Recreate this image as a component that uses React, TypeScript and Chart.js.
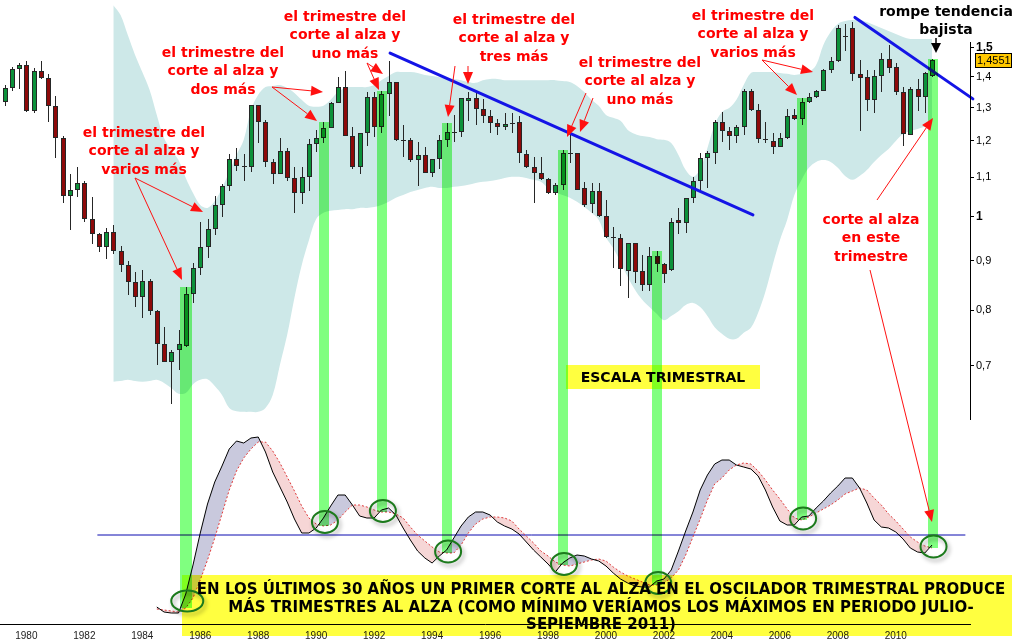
import React, { useEffect, useRef } from "react";
import { Chart, registerables } from "chart.js";

Chart.register(...registerables);

// ---------------- DATA ----------------
const FIRST_YEAR = 1979;
const FIRST_QUARTER = 2;

const OPEN = [
  1.318, 1.361, 1.425, 1.439, 1.29, 1.42, 1.394, 1.306, 1.208, 1.052,
  1.067, 1.084, 0.995, 0.959, 0.93, 0.965, 0.922, 0.891, 0.855, 0.825,
  0.857, 0.799, 0.737, 0.706, 0.727, 0.735, 0.831, 0.886, 0.93, 0.971,
  1.029, 1.077, 1.149, 1.131, 1.128, 1.308, 1.255, 1.14, 1.108, 1.171,
  1.097, 1.058, 1.1, 1.19, 1.209, 1.237, 1.313, 1.364, 1.214, 1.128,
  1.222, 1.332, 1.24, 1.342, 1.381, 1.203, 1.203, 1.146, 1.159, 1.11,
  1.148, 1.203, 1.227, 1.227, 1.32, 1.329, 1.295, 1.274, 1.252, 1.24,
  1.252, 1.256, 1.162, 1.126, 1.11, 1.094, 1.058, 1.079, 1.165, 1.165,
  1.071, 1.031, 1.064, 1.003, 0.953, 0.95, 0.879, 0.939, 0.879, 0.85,
  0.911, 0.893, 0.881, 0.993, 0.985, 1.047, 1.09, 1.151, 1.165, 1.255,
  1.228, 1.215, 1.24, 1.353, 1.292, 1.205, 1.201, 1.182, 1.207, 1.276,
  1.264, 1.316, 1.332, 1.352, 1.422, 1.453, 1.542, 1.571, 1.407, 1.397,
  1.324, 1.402, 1.459, 1.431, 1.348, 1.217, 1.358, 1.332, 1.402,
];
const HIGH = [
  1.372, 1.434, 1.447, 1.454, 1.428, 1.452, 1.408, 1.336, 1.214, 1.108,
  1.127, 1.09, 1.05, 0.963, 0.974, 0.981, 0.933, 0.9, 0.877, 0.881,
  0.861, 0.8, 0.769, 0.727, 0.763, 0.845, 0.895, 0.988, 0.995, 1.052,
  1.081, 1.162, 1.179, 1.163, 1.308, 1.308, 1.262, 1.149, 1.207, 1.179,
  1.128, 1.127, 1.206, 1.232, 1.256, 1.318, 1.4, 1.419, 1.242, 1.222,
  1.348, 1.348, 1.352, 1.452, 1.381, 1.247, 1.208, 1.196, 1.183, 1.149,
  1.217, 1.253, 1.277, 1.329, 1.35, 1.347, 1.326, 1.292, 1.264, 1.282,
  1.282, 1.274, 1.174, 1.154, 1.154, 1.097, 1.084, 1.174, 1.224, 1.165,
  1.087, 1.084, 1.084, 1.042, 0.977, 0.96, 0.939, 0.939, 0.913, 0.931,
  0.921, 0.896, 0.997, 1.021, 1.047, 1.101, 1.165, 1.171, 1.262, 1.287,
  1.241, 1.247, 1.359, 1.359, 1.31, 1.255, 1.222, 1.222, 1.295, 1.294,
  1.329, 1.345, 1.356, 1.426, 1.468, 1.584, 1.588, 1.596, 1.456, 1.422,
  1.422, 1.48, 1.51, 1.445, 1.365, 1.365, 1.391, 1.416, 1.459,
];
const LOW = [
  1.305, 1.353, 1.358, 1.287, 1.282, 1.391, 1.257, 1.151, 1.035, 0.969,
  1.048, 0.989, 0.937, 0.92, 0.904, 0.915, 0.876, 0.829, 0.807, 0.786,
  0.791, 0.701, 0.706, 0.639, 0.693, 0.732, 0.813, 0.871, 0.907, 0.958,
  1.001, 1.065, 1.117, 1.089, 1.115, 1.193, 1.128, 1.081, 1.108, 1.091,
  1.009, 1.032, 1.065, 1.168, 1.195, 1.237, 1.313, 1.214, 1.121, 1.108,
  1.186, 1.211, 1.222, 1.274, 1.2, 1.155, 1.14, 1.078, 1.11, 1.1,
  1.121, 1.183, 1.198, 1.212, 1.26, 1.246, 1.253, 1.222, 1.217, 1.232,
  1.224, 1.137, 1.124, 1.035, 1.093, 1.056, 1.054, 1.068, 1.139, 1.067,
  1.025, 1.009, 1.001, 0.95, 0.885, 0.847, 0.823, 0.853, 0.838, 0.837,
  0.876, 0.854, 0.879, 0.961, 0.963, 1.033, 1.067, 1.071, 1.135, 1.198,
  1.174, 1.193, 1.217, 1.29, 1.195, 1.195, 1.162, 1.182, 1.205, 1.262,
  1.246, 1.313, 1.329, 1.352, 1.413, 1.451, 1.488, 1.385, 1.23, 1.289,
  1.284, 1.35, 1.413, 1.339, 1.185, 1.217, 1.289, 1.282, 1.399,
];
const CLOSE = [
  1.361, 1.425, 1.439, 1.29, 1.42, 1.394, 1.306, 1.208, 1.052, 1.067,
  1.084, 0.995, 0.959, 0.93, 0.965, 0.922, 0.891, 0.855, 0.825, 0.857,
  0.799, 0.737, 0.706, 0.724, 0.738, 0.831, 0.886, 0.93, 0.971, 1.029,
  1.077, 1.149, 1.131, 1.129, 1.308, 1.255, 1.14, 1.108, 1.171, 1.097,
  1.058, 1.1, 1.19, 1.209, 1.237, 1.313, 1.364, 1.214, 1.128, 1.222,
  1.332, 1.24, 1.342, 1.381, 1.203, 1.203, 1.146, 1.159, 1.11, 1.148,
  1.203, 1.227, 1.227, 1.329, 1.329, 1.295, 1.275, 1.252, 1.24, 1.249,
  1.252, 1.165, 1.126, 1.11, 1.094, 1.058, 1.079, 1.165, 1.165, 1.068,
  1.029, 1.064, 1.003, 0.953, 0.953, 0.882, 0.939, 0.877, 0.85, 0.911,
  0.893, 0.873, 0.989, 0.985, 1.047, 1.09, 1.151, 1.165, 1.255, 1.228,
  1.215, 1.241, 1.352, 1.292, 1.205, 1.202, 1.182, 1.207, 1.275, 1.264,
  1.316, 1.332, 1.352, 1.422, 1.453, 1.571, 1.54, 1.407, 1.394, 1.324,
  1.402, 1.459, 1.428, 1.348, 1.219, 1.358, 1.332, 1.411, 1.4551,
];

const BAND_START = 15;
const BAND_UPPER = [
  1.661, 1.622, 1.546, 1.474, 1.415, 1.356, 1.277, 1.208, 1.174, 1.146,
  1.098, 1.059, 1.029, 1.022, 1.039, 1.072, 1.114, 1.16, 1.203, 1.292,
  1.34, 1.365, 1.369, 1.372, 1.362, 1.346, 1.324, 1.305, 1.302, 1.305,
  1.324, 1.349, 1.362, 1.365, 1.365, 1.365, 1.372, 1.388, 1.402, 1.415,
  1.415, 1.415, 1.412, 1.405, 1.402, 1.398, 1.395, 1.392, 1.388, 1.382,
  1.379, 1.388, 1.392, 1.392, 1.388, 1.388, 1.388, 1.388, 1.388, 1.388,
  1.388, 1.388, 1.385, 1.382, 1.369, 1.349, 1.324, 1.305, 1.277, 1.268,
  1.259, 1.232, 1.22, 1.214, 1.211, 1.205, 1.203, 1.194, 1.16, 1.119,
  1.101, 1.122, 1.18, 1.247, 1.286, 1.298, 1.324, 1.372, 1.412, 1.415,
  1.415, 1.415, 1.412, 1.409, 1.405, 1.409, 1.415, 1.439, 1.51, 1.558,
  1.588, 1.599, 1.603, 1.603, 1.595, 1.584, 1.573, 1.561, 1.55, 1.539,
  1.532, 1.532, 1.532, 1.532,
];
const BAND_LOWER = [
  0.674, 0.675, 0.677, 0.675, 0.674, 0.675, 0.677, 0.672, 0.664, 0.655,
  0.656, 0.67, 0.677, 0.678, 0.667, 0.653, 0.633, 0.628, 0.627, 0.627,
  0.627, 0.633, 0.653, 0.702, 0.754, 0.824, 0.891, 0.946, 0.995, 1.01,
  1.015, 1.017, 1.019, 1.019, 1.022, 1.022, 1.024, 1.029, 1.037, 1.047,
  1.054, 1.062, 1.067, 1.072, 1.075, 1.072, 1.072, 1.075, 1.077, 1.08,
  1.085, 1.088, 1.09, 1.093, 1.098, 1.101, 1.101, 1.098, 1.093, 1.088,
  1.072, 1.062, 1.054, 1.047, 1.037, 1.024, 1.01, 0.993, 0.952, 0.928,
  0.898, 0.866, 0.84, 0.82, 0.806, 0.793, 0.781, 0.789, 0.798, 0.81,
  0.814, 0.806, 0.789, 0.768, 0.756, 0.747, 0.747, 0.758, 0.767, 0.795,
  0.836, 0.891, 0.946, 0.993, 1.054, 1.093, 1.125, 1.141, 1.146, 1.141,
  1.125, 1.103, 1.093, 1.103, 1.119, 1.141, 1.16, 1.177, 1.2, 1.22,
  1.229, 1.235, 1.241, 1.25,
];

const OSC_START = 21;
const OSC_FAST = [
  -36, -38.5, -39, -39, -29.5, -15, 1, 15.5, 26.5, 34.5,
  43, 47, 46, 48.5, 49, 41.5, 31.5, 24, 16.5, 8,
  1, 1, 3.5, 8.5, 14.5, 20, 20, 15, 9.5, 8.5,
  8.5, 12.5, 13.5, 10, 3.5, -2.5, -8, -11.5, -14, -10.5,
  -7.5, -1.5, 4.5, 9, 11.5, 11.5, 10, 6.5, 4.5, 3,
  0.5, -3.5, -7.5, -11, -14.5, -18.5, -14, -11.5, -10, -10.5,
  -12, -13, -15.5, -19, -22, -24, -25.5, -26, -26, -23,
  -22, -17.5, -8, 2, 11.5, 22.5, 30, 35.5, 37.5, 37.5,
  35, 34, 33, 29.5, 22.5, 14, 7, 5, 5, 9,
  9.5, 13.5, 17, 21, 24.5, 28.5, 28.5, 23.5, 16, 7.5,
  4, 3.5, 1.5, -2, -6.5, -8.5, -9, -5,
];
const OSC_SLOW = [
  -37, -37.5, -38, -38.5, -36.5, -31.5, -22.5, -12.5, -1.5, 10.5,
  22.5, 32, 38.5, 43, 46.5, 46.5, 42, 36, 29, 22,
  14.5, 8.5, 5.5, 4.5, 5, 7.5, 11.5, 15, 15, 14,
  12.5, 11.5, 11.5, 10.5, 8.5, 4, 0, -3, -6, -8.5,
  -9, -9, -5, 1, 5.5, 8, 9, 9, 8.5, 7,
  3, -0.5, -4, -8, -10.5, -13.5, -15, -15.5, -14.5, -13.5,
  -12.5, -12, -13, -16, -18.5, -20.5, -22, -23.5, -25, -25,
  -24, -21.5, -17.5, -10, -1, 8, 17.5, 25.5, 28.5, 32.5,
  35, 36, 35.5, 32, 27.5, 22.5, 18, 13, 8.5, 7.5,
  9, 11, 13, 15, 17.5, 20.5, 22, 23.5, 22.5, 18.5,
  15, 10.5, 7, 3, -1, -3.5, -5.5, -6.5,
];

const CROSS_UP = [25, 44, 52, 61, 77, 90, 110, 128];

const YEAR_TICKS = [1980, 1982, 1984, 1986, 1988, 1990, 1992, 1994, 1996, 1998, 2000, 2002, 2004, 2006, 2008, 2010];
const PRICE_TICKS = [0.7, 0.8, 0.9, 1, 1.1, 1.2, 1.3, 1.4, 1.5];
const BOLD_PRICE_TICKS = [1, 1.5];

const TRENDLINES = [
  [1992.55, 1.481, 2005.07, 1.005],
  [2008.59, 1.613, 2012.66, 1.327],
];
const ZERO_LINE = [1982.45, 2012.4];
const LAST_VALUE_LABEL = "1,4551";

// ---------------- LAYOUT / STYLE ----------------
const X_MIN = 1979.09;
const X_MAX = 2012.56;
const PRICE_MAX = 1.6817;
const PRICE_MIN = 0.3772;
const OSC_MIN = -44.5;
const OSC_MAX = 267.5;

const NOTE_LINES_A = ["el trimestre del", "corte al alza y"];
const RED_NOTES = [
  { x: 144, y: 133, lines: [...NOTE_LINES_A, "varios más"] },
  { x: 223, y: 53, lines: [...NOTE_LINES_A, "dos más"] },
  { x: 345, y: 17, lines: [...NOTE_LINES_A, "uno más"] },
  { x: 514, y: 20, lines: [...NOTE_LINES_A, "tres más"] },
  { x: 640, y: 63, lines: [...NOTE_LINES_A, "uno más"] },
  { x: 753, y: 16, lines: [...NOTE_LINES_A, "varios más"] },
  { x: 871, y: 220, lines: ["corte al alza", "en este", "trimestre"] },
];
const RED_ARROWS = [
  [135, 178, 182, 280], [135, 178, 203, 212],
  [272, 87, 323, 92], [272, 87, 317, 121],
  [367, 63, 383, 74], [367, 63, 379, 90],
  [455, 66, 448, 117], [468, 66, 468, 84],
  [586, 93, 567, 137], [593, 98, 580, 132],
  [762, 60, 813, 72], [762, 60, 797, 95],
  [877, 200, 933, 118], [870, 270, 932, 522],
];
const BOTTOM_TEXT = [
  "EN LOS ÚLTIMOS 30 AÑOS UN PRIMER CORTE AL ALZA EN EL OSCILADOR TRIMESTRAL PRODUCE",
  "MÁS TRIMESTRES AL ALZA (COMO MÍNIMO VERÍAMOS LOS MÁXIMOS EN PERIODO JULIO-",
  "SEPIEMBRE 2011)",
];

const quarterTime = (i: number) => FIRST_YEAR + (FIRST_QUARTER - 1) / 4 + i / 4;

function drawArrow(ctx: CanvasRenderingContext2D, x1: number, y1: number, x2: number, y2: number, color: string, L = 12, W = 5) {
  const a = Math.atan2(y2 - y1, x2 - x1);
  const bx = x2 - L * Math.cos(a);
  const by = y2 - L * Math.sin(a);
  ctx.strokeStyle = color;
  ctx.lineWidth = 1;
  ctx.beginPath();
  ctx.moveTo(x1, y1);
  ctx.lineTo(bx, by);
  ctx.stroke();
  ctx.fillStyle = color;
  ctx.beginPath();
  ctx.moveTo(x2, y2);
  ctx.lineTo(bx + W * Math.sin(a), by - W * Math.cos(a));
  ctx.lineTo(bx - W * Math.sin(a), by + W * Math.cos(a));
  ctx.closePath();
  ctx.fill();
}

const bgPlugin = {
  id: "bg",
  beforeDraw(chart: any) {
    const ctx = chart.ctx;
    ctx.save();
    ctx.fillStyle = "#ffffff";
    ctx.fillRect(0, 0, chart.width, chart.height);
    ctx.restore();
  },
};

const overlayPlugin = {
  id: "overlay",
  afterDatasetsDraw(chart: any) {
    const ctx: CanvasRenderingContext2D = chart.ctx;
    const xs = chart.scales.x;
    const ys = chart.scales.y;
    const yo = chart.scales.y2;
    const area = chart.chartArea;
    ctx.save();

    // candlesticks
    for (let i = 0; i < CLOSE.length; i++) {
      const cx = Math.round(xs.getPixelForValue(quarterTime(i)));
      const yH = Math.round(ys.getPixelForValue(HIGH[i]));
      const yL = Math.round(ys.getPixelForValue(LOW[i]));
      const yO = ys.getPixelForValue(OPEN[i]);
      const yC = ys.getPixelForValue(CLOSE[i]);
      ctx.strokeStyle = "#262626";
      ctx.lineWidth = 1;
      ctx.beginPath();
      ctx.moveTo(cx + 0.5, yH);
      ctx.lineTo(cx + 0.5, yL);
      ctx.stroke();
      const top = Math.round(Math.min(yO, yC));
      const bot = Math.round(Math.max(yO, yC));
      if (bot - top < 2) {
        ctx.beginPath();
        ctx.moveTo(cx - 2, top + 0.5);
        ctx.lineTo(cx + 3, top + 0.5);
        ctx.stroke();
      } else {
        ctx.fillStyle = CLOSE[i] >= OPEN[i] ? "#0c913a" : "#8e0a0a";
        ctx.fillRect(cx - 2, top, 5, bot - top);
        ctx.strokeRect(cx - 1.5, top + 0.5, 4, bot - top - 1);
      }
    }

    // trend lines
    ctx.strokeStyle = "#1414e6";
    ctx.lineWidth = 3;
    ctx.lineCap = "round";
    for (const [t1, p1, t2, p2] of TRENDLINES) {
      ctx.beginPath();
      ctx.moveTo(xs.getPixelForValue(t1), ys.getPixelForValue(p1));
      ctx.lineTo(xs.getPixelForValue(t2), ys.getPixelForValue(p2));
      ctx.stroke();
    }
    ctx.lineCap = "butt";

    // green signal bars (multiply)
    ctx.globalCompositeOperation = "multiply";
    ctx.fillStyle = "#80ff80";
    CROSS_UP.forEach((idx, n) => {
      const k = idx - OSC_START;
      const cx = xs.getPixelForValue(quarterTime(idx));
      const top = ys.getPixelForValue(HIGH[idx]);
      const bottom = yo.getPixelForValue(Math.min(OSC_FAST[k], OSC_SLOW[k]));
      const w = n === 0 ? 12 : 10;
      ctx.fillRect(Math.round(cx - w / 2 + 0.5), Math.round(top), w, Math.round(bottom - top));
    });

    // yellow boxes (multiply)
    ctx.fillStyle = "#ffff40";
    ctx.fillRect(566, 365, 194, 24);
    ctx.fillRect(182, 575, 830, 61);
    ctx.globalCompositeOperation = "source-over";

    // green circles
    for (const idx of CROSS_UP) {
      const k = idx - OSC_START;
      const cx = xs.getPixelForValue(quarterTime(idx)) + 1.5;
      const cy = (yo.getPixelForValue(OSC_FAST[k]) + yo.getPixelForValue(OSC_SLOW[k])) / 2;
      const rx = idx === CROSS_UP[0] ? 16 : 13;
      const ry = idx === CROSS_UP[0] ? 10.5 : 11;
      ctx.save();
      ctx.shadowColor = "rgba(0,0,0,0.35)";
      ctx.shadowBlur = 4;
      ctx.shadowOffsetX = 2;
      ctx.shadowOffsetY = 3;
      ctx.strokeStyle = "#1c7a1c";
      ctx.lineWidth = 2;
      ctx.beginPath();
      ctx.ellipse(cx, cy, rx, ry, 0, 0, Math.PI * 2);
      ctx.stroke();
      ctx.restore();
    }

    // red arrows
    for (const [x1, y1, x2, y2] of RED_ARROWS) drawArrow(ctx, x1, y1, x2, y2, "#ff1010");

    // red notes
    ctx.textAlign = "center";
    ctx.textBaseline = "middle";
    ctx.font = 'bold 14px "DejaVu Sans"';
    ctx.fillStyle = "#ff0000";
    for (const n of RED_NOTES) {
      n.lines.forEach((ln, j) => ctx.fillText(ln, n.x, n.y + j * 18.5));
    }

    // black note
    ctx.fillStyle = "#000";
    ctx.fillText("rompe tendencia", 946, 12, 138);
    ctx.fillText("bajista", 946, 30);
    ctx.strokeStyle = "#000";
    ctx.lineWidth = 1.5;
    ctx.beginPath();
    ctx.moveTo(936, 38);
    ctx.lineTo(936, 46);
    ctx.stroke();
    ctx.beginPath();
    ctx.moveTo(931, 43);
    ctx.lineTo(941, 43);
    ctx.lineTo(936, 53);
    ctx.closePath();
    ctx.fill();

    // yellow box texts
    ctx.fillText("ESCALA TRIMESTRAL", 663, 378, 186);
    ctx.font = 'bold 15px "DejaVu Sans"';
    ctx.fillText(BOTTOM_TEXT[0], 601, 590, 820);
    ctx.fillText(BOTTOM_TEXT[1], 601, 608, 762);
    ctx.fillText(BOTTOM_TEXT[2], 601, 625);

    // right axis line
    ctx.strokeStyle = "#000";
    ctx.lineWidth = 1;
    ctx.beginPath();
    ctx.moveTo(area.right + 0.5, Math.round(ys.getPixelForValue(1.52)));
    ctx.lineTo(area.right + 0.5, Math.round(ys.getPixelForValue(0.615)));
    ctx.stroke();

    // last value label
    const vy = Math.round(ys.getPixelForValue(CLOSE[CLOSE.length - 1]));
    ctx.fillStyle = "#ffc800";
    ctx.fillRect(area.right + 5, vy - 7, 37, 15);
    ctx.strokeStyle = "#000";
    ctx.strokeRect(area.right + 5.5, vy - 6.5, 36, 14);
    ctx.fillStyle = "#000";
    ctx.font = '11px "Liberation Sans"';
    ctx.textAlign = "left";
    ctx.fillText(LAST_VALUE_LABEL, area.right + 7, vy + 1);

    ctx.restore();
  },
};

export default function App() {
  const ref = useRef<HTMLCanvasElement>(null);

  useEffect(() => {
    const canvas = ref.current;
    if (!canvas) return;

    const bandUpper = BAND_UPPER.map((v, k) => ({ x: quarterTime(BAND_START + k), y: v }));
    const bandLower = BAND_LOWER.map((v, k) => ({ x: quarterTime(BAND_START + k), y: v }));
    const fast = OSC_FAST.map((v, k) => ({ x: quarterTime(OSC_START + k), y: v }));
    const slow = OSC_SLOW.map((v, k) => ({ x: quarterTime(OSC_START + k), y: v }));
    const zero = ZERO_LINE.map((t) => ({ x: t, y: 0 }));

    const chart = new Chart(canvas, {
      type: "line",
      data: {
        datasets: [
          { label: "upper", data: bandUpper, yAxisID: "y", borderColor: "rgba(0,0,0,0)", borderWidth: 0, pointRadius: 0, fill: false, tension: 0.35 },
          { label: "lower", data: bandLower, yAxisID: "y", borderColor: "rgba(0,0,0,0)", borderWidth: 0, pointRadius: 0, fill: "-1", backgroundColor: "#cde8e8", tension: 0.35 },
          { label: "fast", data: fast, yAxisID: "y2", borderColor: "#000000", borderWidth: 1, pointRadius: 0, fill: { target: "+1", above: "#c9c9dd", below: "#f6d6d6" } as any },
          { label: "slow", data: slow, yAxisID: "y2", borderColor: "#e03a3a", borderDash: [2, 2], borderWidth: 1, pointRadius: 0, fill: false },
          { label: "zero", data: zero, yAxisID: "y2", borderColor: "#0a0ab0", borderWidth: 1, pointRadius: 0, fill: false },
        ],
      } as any,
      options: {
        animation: false,
        responsive: true,
        maintainAspectRatio: false,
        events: [],
        layout: { padding: 0 },
        plugins: {
          legend: { display: false },
          tooltip: { enabled: false },
          filler: { drawTime: "beforeDatasetsDraw" } as any,
        },
        scales: {
          x: {
            type: "linear",
            min: X_MIN,
            max: X_MAX,
            position: "bottom",
            grid: { display: false, drawTicks: false },
            border: { display: true, color: "#000", width: 1 },
            ticks: {
              autoSkip: false,
              maxRotation: 0,
              padding: 6,
              color: "#222",
              font: { family: "Liberation Sans", size: 10 },
              callback: (v: any) => String(v),
            },
            afterBuildTicks: (s: any) => {
              s.ticks = YEAR_TICKS.map((v) => ({ value: v }));
            },
            afterFit: (s: any) => {
              s.height = 19;
              s.paddingLeft = 0;
              s.paddingRight = 0;
            },
          },
          y: {
            type: "logarithmic",
            position: "right",
            min: PRICE_MIN,
            max: PRICE_MAX,
            grid: { drawOnChartArea: false, drawTicks: true, tickLength: 4, color: "#000", lineWidth: 1 },
            border: { display: false },
            ticks: {
              autoSkip: false,
              padding: 2,
              color: "#000",
              font: (c: any) =>
                c.tick && BOLD_PRICE_TICKS.includes(c.tick.value)
                  ? { family: "Liberation Sans", size: 12, weight: "bold" }
                  : { family: "Liberation Sans", size: 11, weight: "normal" },
              callback: (v: any) => String(v).replace(".", ","),
            },
            afterBuildTicks: (s: any) => {
              s.ticks = PRICE_TICKS.map((v) => ({ value: v }));
            },
            afterFit: (s: any) => {
              s.width = 49;
              s.paddingTop = 0;
              s.paddingBottom = 0;
            },
          },
          y2: {
            type: "linear",
            display: false,
            position: "left",
            min: OSC_MIN,
            max: OSC_MAX,
            ticks: { display: false },
            afterFit: (s: any) => {
              s.width = 0;
              s.paddingTop = 0;
              s.paddingBottom = 0;
            },
          },
        },
      } as any,
      plugins: [bgPlugin, overlayPlugin],
    });

    return () => chart.destroy();
  }, []);

  return (
    <div style={{ position: "absolute", left: 0, top: 0, width: 1019, height: 643, background: "#fff", overflow: "hidden" }}>
      <canvas ref={ref} />
    </div>
  );
}
